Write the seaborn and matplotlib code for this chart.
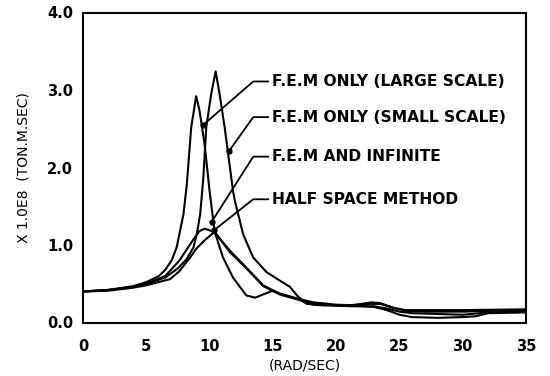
import numpy as np
import pandas as pd
import matplotlib
matplotlib.use("Agg")
import matplotlib.pyplot as plt
import seaborn as sns

# ---- data ----
ls_x = [0, 2, 4, 5, 6, 6.5, 7, 7.4, 7.94, 8.2, 8.55, 8.94, 9.2, 9.6, 10.0, 10.4, 11.06, 11.85,
        12.9, 13.6, 14.2, 15.0, 15.6, 16.9, 17.5, 18.2, 19, 20, 21, 22, 23, 24, 25, 26, 28, 30, 31, 32, 35]
ls_y = [0.40, 0.42, 0.47, 0.52, 0.60, 0.68, 0.80, 0.97, 1.40, 1.78, 2.52, 2.92, 2.74, 2.31, 1.70, 1.17, 0.84, 0.58,
        0.35, 0.32, 0.36, 0.41, 0.37, 0.31, 0.26, 0.23, 0.22, 0.22, 0.21, 0.21, 0.20, 0.16, 0.10, 0.07, 0.06, 0.07, 0.08, 0.12, 0.13]

ss_x = [0, 2, 4, 5, 6.5, 7.5, 8.2, 8.73, 9.0, 9.26, 9.5, 9.74, 10.13, 10.48, 10.79, 11.19, 11.85, 12.0, 12.65, 13.44,
        14.5, 15.56, 16.35, 16.9, 17.67, 18.5, 20, 21, 22, 22.8, 23.5, 24.5, 25.5, 27, 30, 32, 35]
ss_y = [0.40, 0.42, 0.46, 0.50, 0.58, 0.70, 0.82, 0.97, 1.15, 1.40, 1.85, 2.52, 2.95, 3.24, 2.95, 2.52, 1.70, 1.57, 1.14, 0.84,
        0.65, 0.54, 0.46, 0.35, 0.24, 0.23, 0.22, 0.22, 0.24, 0.26, 0.25, 0.19, 0.15, 0.14, 0.14, 0.15, 0.16]

fi_x = [0, 2, 4, 5, 6.5, 7.62, 8.67, 9.2, 9.6, 10.0, 10.4, 11.59, 12.9, 14.23, 15.56, 16.88, 18.2, 20, 21.9,
        22.7, 23.5, 24.5, 25.5, 28, 30, 35]
fi_y = [0.40, 0.42, 0.46, 0.50, 0.60, 0.80, 1.06, 1.18, 1.21, 1.19, 1.16, 0.93, 0.71, 0.48, 0.37, 0.31, 0.26, 0.23, 0.22,
        0.24, 0.24, 0.19, 0.16, 0.16, 0.16, 0.17]

hs_x = [0, 2, 4, 5, 6.88, 7.6, 8.47, 8.94, 9.6, 10.4, 11.59, 12.9, 14.23, 15.56, 16.88, 18.2, 20, 22, 23,
        24, 25, 26, 28, 30, 32, 35]
hs_y = [0.40, 0.41, 0.45, 0.48, 0.56, 0.66, 0.84, 0.95, 1.06, 1.17, 0.91, 0.70, 0.47, 0.36, 0.30, 0.25, 0.22, 0.21, 0.21,
        0.18, 0.14, 0.12, 0.11, 0.10, 0.13, 0.14]

series_names = ["F.E.M ONLY (LARGE SCALE)", "F.E.M ONLY (SMALL SCALE)",
                "F.E.M AND INFINITE", "HALF SPACE METHOD"]
x_ticks = [0, 5, 10, 15, 20, 25, 30, 35]
y_ticks = [0.0, 1.0, 2.0, 3.0, 4.0]
y_tick_labels = ["0.0", "1.0", "2.0", "3.0", "4.0"]
x_label = "(RAD/SEC)"
y_label = "X 1.0E8  (TON.M.SEC)"

frames = []
for name, xs, ys in zip(series_names, [ls_x, ss_x, fi_x, hs_x], [ls_y, ss_y, fi_y, hs_y]):
    frames.append(pd.DataFrame({"w": xs, "v": ys, "method": name}))
df = pd.concat(frames, ignore_index=True)

sns.set_style("white")
plt.rcParams["font.family"] = ["DejaVu Sans"]
plt.rcParams["text.color"] = "black"
plt.rcParams["axes.labelcolor"] = "black"
plt.rcParams["xtick.color"] = "black"
plt.rcParams["ytick.color"] = "black"

fig = plt.figure(figsize=(5.5, 3.76), dpi=100)
ax = fig.add_axes([83 / 550, 1 - 322.5 / 376, 443 / 550, 310 / 376])

sns.lineplot(data=df, x="w", y="v", hue="method", palette=["black"] * 4,
             estimator=None, sort=False, linewidth=1.5, legend=False, ax=ax)

ax.set_xlim(0, 35)
ax.set_ylim(0, 4.0)
ax.set_xticks(x_ticks)
ax.set_xticklabels([str(t) for t in x_ticks], fontsize=10.5, fontweight="bold")
ax.set_yticks(y_ticks)
ax.set_yticklabels(y_tick_labels, fontsize=10.5, fontweight="bold")
ax.tick_params(axis="both", direction="in", length=7, width=1.3, color="black",
               labelcolor="black", top=False, right=False)
ax.tick_params(axis="x", pad=12)
ax.tick_params(axis="y", pad=7)
for s in ax.spines.values():
    s.set_visible(True)
    s.set_color("black")
    s.set_linewidth(1.5)
ax.set_xlabel(x_label, fontsize=10, labelpad=3, color="black")
ax.set_ylabel(y_label, fontsize=10, labelpad=12, color="black")

# labels with leader lines
label_y = [3.11, 2.65, 2.14, 1.59]
targets = [(9.5, 2.55), (11.53, 2.21), (10.17, 1.30), (10.35, 1.19)]
for name, ly, (tx, ty) in zip(series_names, label_y, targets):
    ax.plot([tx, 13.45, 14.64], [ty, ly, ly], color="black", linewidth=1.3)
    ax.plot([tx], [ty], marker="o", markersize=3.5, color="black")
    ax.text(14.9, ly, name, fontsize=11.2, fontweight="bold", va="center", ha="left", color="black")

fig.savefig("out.png", dpi=100)
